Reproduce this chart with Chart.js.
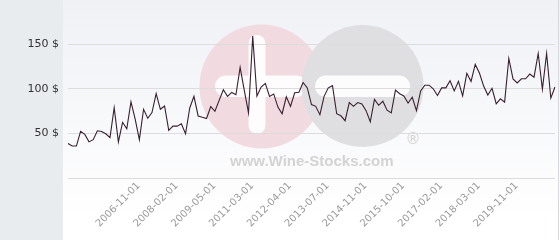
<!DOCTYPE html>
<html>
<head>
<meta charset="utf-8">
<script src="https://cdn.jsdelivr.net/npm/chart.js@4"></script>
<style>
  html, body { margin: 0; padding: 0; background: #fff; }
  #wrap { width: 560px; height: 240px; }
</style>
</head>
<body>
<div id="wrap"><canvas id="chart" width="560" height="240"></canvas></div>
<script>
// price per bottle
const prices = [
  38.7, 35.8, 35.8, 52.2, 48.9, 40.5, 43, 52.9, 52.2, 49.6,
  45.3, 78.8, 40.5, 62.4, 55.1, 85.4, 66, 43, 77, 67,
  73.4, 94.5, 77, 80.7, 53.4, 58.1, 58.1, 60.7, 49.6, 78.5,
  91.5, 69.5, 68, 66.7, 80, 74.8, 87, 98.9, 91.5, 95.9,
  93.3, 124, 98, 73, 159, 91.8, 102, 106, 91.5, 94.2,
  79.5, 72, 91, 80.3, 95.5, 96, 107, 101, 82.3, 80.3,
  71, 91.5, 101, 103.5, 72, 69.7, 64.2, 84.5, 80.3, 84.5,
  83, 75.5, 63, 88, 81.5, 86, 76, 73, 98.5, 94.5,
  92, 84, 90.5, 75.5, 97.5, 104, 104, 100, 92.5, 101,
  101, 109, 97.6, 108.3, 92, 117.3, 108.3, 127.3, 117.6, 103,
  93, 100.5, 83.2, 88.7, 85, 134, 111, 106.5, 111.2, 111.2,
  116.5, 113, 139.5, 99.5, 139.5, 89.5, 102
];

// dates shown under the axis, one every 9 points starting at point 14
const tickLabels = [
  "2006-11-01", "2008-02-01", "2009-05-01", "2011-03-01", "2012-04-01",
  "2013-07-01", "2014-11-01", "2015-10-01", "2017-02-01", "2018-03-01",
  "2019-11-01"
];
const firstTick = 14;
const tickStep = 9;

const labels = prices.map((p, i) => {
  const k = (i - firstTick) / tickStep;
  return (Number.isInteger(k) && k >= 0 && k < tickLabels.length) ? tickLabels[k] : "";
});

// backdrop: grey side panel, soft gradient, logo watermark
const backdrop = {
  id: "backdrop",
  beforeDraw(chart) {
    const ctx = chart.ctx;
    ctx.save();
    const g = ctx.createLinearGradient(0, 0, 0, 220);
    g.addColorStop(0, "#eff1f5");
    g.addColorStop(1, "#ffffff");
    ctx.fillStyle = g;
    ctx.fillRect(63, 0, 497, 240);
    ctx.fillStyle = "#e8ecef";
    ctx.fillRect(0, 0, 63, 240);
    ctx.fillStyle = "#d6d8db";
    ctx.fillRect(558, 0, 1, 240);

    // watermark
    const bar = (x, y, w, h) => {
      ctx.beginPath();
      ctx.roundRect(x, y, w, h, Math.min(w, h) / 2);
      ctx.fill();
    };
    ctx.fillStyle = "rgb(241,218,224)";
    ctx.beginPath();
    ctx.arc(261.5, 86.5, 62, 0, Math.PI * 2);
    ctx.fill();
    ctx.fillStyle = "rgba(255,255,255,0.9)";
    bar(248.5, 35, 17, 99);
    bar(215, 75.5, 92, 21.5);
    ctx.fillStyle = "rgb(223,223,225)";
    ctx.beginPath();
    ctx.arc(362.5, 86, 61, 0, Math.PI * 2);
    ctx.fill();
    ctx.fillStyle = "rgba(255,255,255,0.9)";
    bar(315, 75.5, 95, 21.5);

    ctx.fillStyle = "#d3d3d3";
    ctx.font = "bold 15px 'Liberation Sans'";
    ctx.textBaseline = "alphabetic";
    ctx.fillText("www.Wine-Stocks.com", 230, 166);
    ctx.font = "15px 'DejaVu Sans'";
    ctx.textAlign = "center";
    ctx.textBaseline = "middle";
    ctx.fillText("\u00AE", 413, 140);
    ctx.restore();
  }
};

new Chart(document.getElementById("chart"), {
  type: "line",
  data: {
    labels,
    datasets: [{
      data: prices,
      borderColor: "#38202f",
      borderWidth: 1.1,
      pointRadius: 0,
      tension: 0,
      fill: false
    }]
  },
  options: {
    responsive: false,
    animation: false,
    layout: { padding: { top: 0, right: 5, bottom: 0, left: 0 } },
    plugins: {
      legend: { display: false },
      tooltip: { enabled: false }
    },
    scales: {
      x: {
        grid: { display: false },
        border: { display: false },
        ticks: {
          autoSkip: false,
          minRotation: 45,
          maxRotation: 45,
          padding: -6,
          labelOffset: 12,
          color: "#9a9a9a",
          font: { family: "'DejaVu Sans'", size: 10 }
        },
        afterFit(scale) {
          scale.height = 62;
          scale.paddingLeft = 0;
          scale.paddingRight = 0;
        }
      },
      y: {
        min: 0,
        max: 182,
        border: { display: false },
        grid: {
          drawTicks: false,
          color: c => (c.tick && c.tick.value % 50 === 0) ? "#dcdcdc" : "rgba(0,0,0,0)"
        },
        ticks: {
          stepSize: 50,
          padding: 9,
          color: "#333",
          font: { family: "'DejaVu Sans'", size: 11 },
          callback: v => (v > 0 && v % 50 === 0) ? v + " $" : ""
        },
        afterFit(scale) { scale.width = 68; }
      }
    }
  },
  plugins: [backdrop]
});
</script>
</body>
</html>
